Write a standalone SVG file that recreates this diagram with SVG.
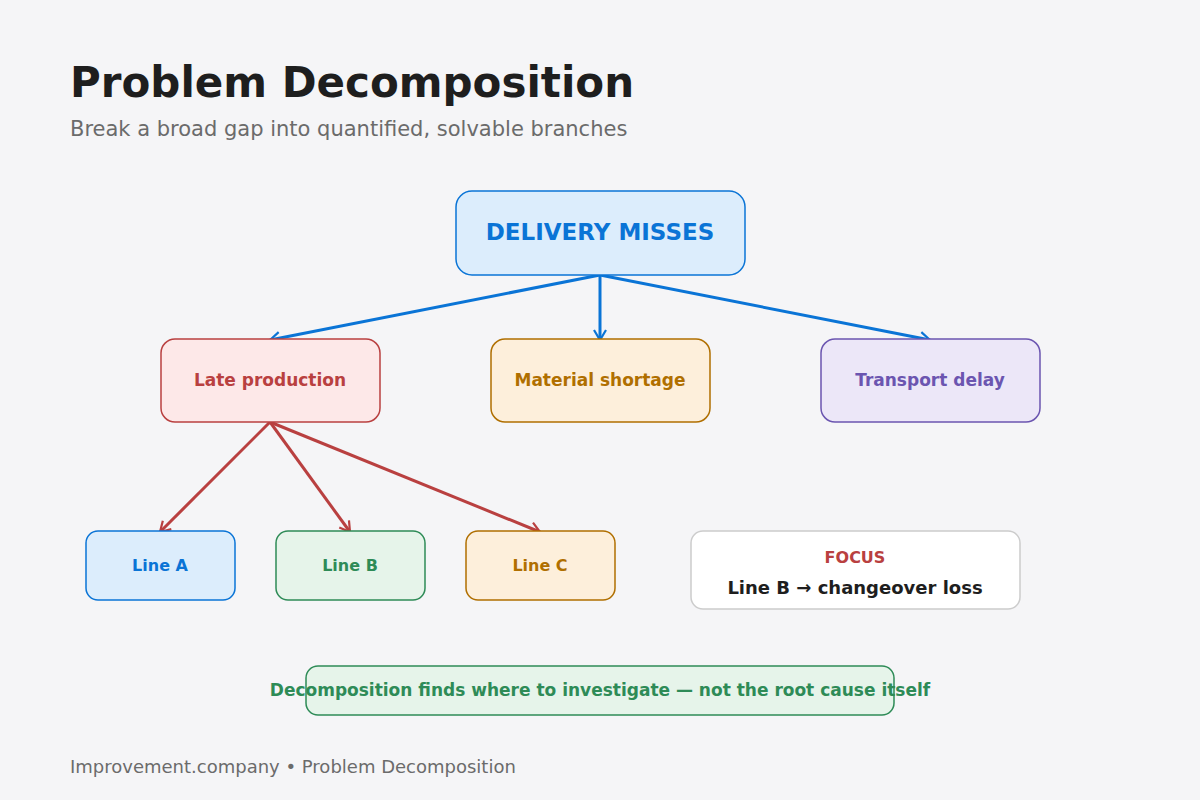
<svg xmlns="http://www.w3.org/2000/svg" width="1200" height="800" viewBox="0 0 1200 800">
<defs>
<style>
text{font-family:"DejaVu Sans",sans-serif}
.b{font-weight:bold}
</style>
<marker id="ab" viewBox="0 0 16 16" refX="13" refY="8" markerWidth="16" markerHeight="16" markerUnits="userSpaceOnUse" orient="auto"><path d="M3,2 L13,8 L3,14" fill="none" stroke="#0a74d6" stroke-width="2.2"/></marker>
<marker id="ar" viewBox="0 0 16 16" refX="13" refY="8" markerWidth="16" markerHeight="16" markerUnits="userSpaceOnUse" orient="auto"><path d="M3,2 L13,8 L3,14" fill="none" stroke="#b94040" stroke-width="2.2"/></marker>
</defs>
<rect width="1200" height="800" fill="#f5f5f7"/>
<text x="70" y="97" font-size="42" class="b" fill="#1e1e1e">Problem Decomposition</text>
<text x="70" y="136" font-size="21" fill="#6b6b6b">Break a broad gap into quantified, solvable branches</text>
<g id="connectors" fill="none" stroke-width="3">
<line x1="600" y1="275" x2="270" y2="340" stroke="#0a74d6" marker-end="url(#ab)"/>
<line x1="600" y1="275" x2="600" y2="340" stroke="#0a74d6" marker-end="url(#ab)"/>
<line x1="600" y1="275" x2="930" y2="340" stroke="#0a74d6" marker-end="url(#ab)"/>
<line x1="270" y1="422" x2="160" y2="532" stroke="#b94040" marker-end="url(#ar)"/>
<line x1="270" y1="422" x2="350" y2="532" stroke="#b94040" marker-end="url(#ar)"/>
<line x1="270" y1="422" x2="540" y2="532" stroke="#b94040" marker-end="url(#ar)"/>
</g>
<g id="root"><rect x="456" y="191" width="289" height="84" rx="16" fill="#dcedfc" stroke="#0a74d6" stroke-width="1.5"/><text x="600" y="240" font-size="23" class="b" fill="#0a74d6" text-anchor="middle">DELIVERY MISSES</text></g>
<g id="late"><rect x="161" y="339" width="219" height="83" rx="14" fill="#fde8e8" stroke="#b94040" stroke-width="1.5"/><text x="270" y="386" font-size="17" class="b" fill="#b94040" text-anchor="middle">Late production</text></g>
<g id="material"><rect x="491" y="339" width="219" height="83" rx="14" fill="#fdefdb" stroke="#b06f00" stroke-width="1.5"/><text x="600" y="386" font-size="17" class="b" fill="#b06f00" text-anchor="middle">Material shortage</text></g>
<g id="transport"><rect x="821" y="339" width="219" height="83" rx="14" fill="#ece7f8" stroke="#6b55b0" stroke-width="1.5"/><text x="930" y="386" font-size="17" class="b" fill="#6b55b0" text-anchor="middle">Transport delay</text></g>
<g id="lineA"><rect x="86" y="531" width="149" height="69" rx="12" fill="#dcedfc" stroke="#0a74d6" stroke-width="1.5"/><text x="160" y="571" font-size="16" class="b" fill="#0a74d6" text-anchor="middle">Line A</text></g>
<g id="lineB"><rect x="276" y="531" width="149" height="69" rx="12" fill="#e6f4ea" stroke="#2e8b57" stroke-width="1.5"/><text x="350" y="571" font-size="16" class="b" fill="#2e8b57" text-anchor="middle">Line B</text></g>
<g id="lineC"><rect x="466" y="531" width="149" height="69" rx="12" fill="#fdefdb" stroke="#b06f00" stroke-width="1.5"/><text x="540" y="571" font-size="16" class="b" fill="#b06f00" text-anchor="middle">Line C</text></g>
<g id="focus"><rect x="691" y="531" width="329" height="78" rx="12" fill="#ffffff" stroke="#cccccc" stroke-width="1.5"/><text x="855" y="563" font-size="16" class="b" fill="#b94040" text-anchor="middle">FOCUS</text><text x="855" y="594" font-size="18" class="b" fill="#1e1e1e" text-anchor="middle">Line B → changeover loss</text></g>
<g id="note"><rect x="306" y="666" width="588" height="49" rx="12" fill="#e6f4ea" stroke="#2e8b57" stroke-width="1.5"/><text x="600" y="696" font-size="17" class="b" fill="#2e8b57" text-anchor="middle">Decomposition finds where to investigate — not the root cause itself</text></g>
<text x="70" y="773" font-size="18" fill="#6b6b6b">Improvement.company • Problem Decomposition</text>
</svg>
